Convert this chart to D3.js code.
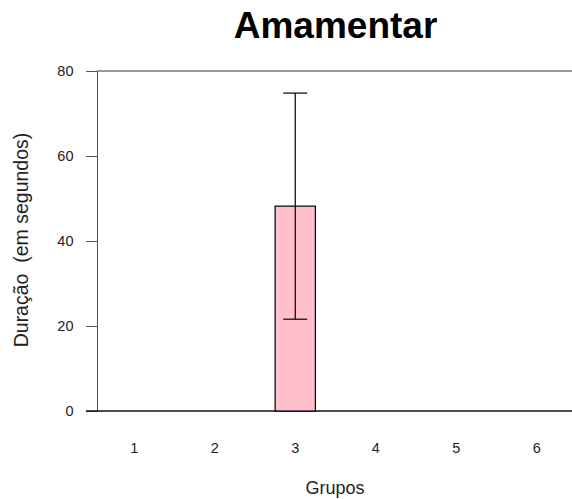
<!DOCTYPE html>
<html>
<head>
<meta charset="utf-8">
<script src="https://cdn.jsdelivr.net/npm/d3@7"></script>
<style>
  body { margin: 0; background: #fff; }
  svg { display: block; font-family: "Liberation Sans", Arial, sans-serif; }
</style>
</head>
<body>
<div id="chart"></div>
<script>
// data
const groups = ["1", "2", "3", "4", "5", "6"];
const means = [0, 0, 48.2, 0, 0, 0];
const errLow = [null, null, 21.6, null, null, null];
const errHigh = [null, null, 74.8, null, null, null];
const yTicks = [0, 20, 40, 60, 80];

const width = 572, height = 499;

const svg = d3.select("#chart").append("svg")
  .attr("width", width)
  .attr("height", height);

const x = d3.scaleBand()
  .domain(groups)
  .range([94, 577])
  .paddingInner(0.5)
  .paddingOuter(0.25);

const y = d3.scaleLinear()
  .domain([0, 80])
  .range([411, 71]);

// title
svg.append("text")
  .attr("x", 335.5)
  .attr("y", 38)
  .attr("text-anchor", "middle")
  .style("font-size", "37px")
  .style("font-weight", "bold")
  .text("Amamentar");

// y axis
const yAxis = svg.append("g")
  .attr("transform", "translate(97,0)")
  .call(d3.axisLeft(y).tickValues(yTicks).tickSize(11).tickPadding(12.5));
yAxis.select(".domain").attr("stroke", "#555");
yAxis.selectAll(".tick line").attr("stroke", "#555");
yAxis.selectAll("text").style("font-size", "14.5px").attr("fill", "#222");

// top line and baseline
svg.append("line")
  .attr("x1", 97).attr("x2", width)
  .attr("y1", y(80)).attr("y2", y(80))
  .attr("stroke", "#333").attr("stroke-width", 1.2);
svg.append("line")
  .attr("x1", 86).attr("x2", width)
  .attr("y1", y(0)).attr("y2", y(0))
  .attr("stroke", "#111").attr("stroke-width", 1.6);

// bars
svg.append("g")
  .selectAll("rect")
  .data(groups.map((g, i) => ({g: g, v: means[i]})).filter(d => d.v > 0))
  .join("rect")
  .attr("x", d => x(d.g))
  .attr("y", d => y(d.v))
  .attr("width", x.bandwidth())
  .attr("height", d => y(0) - y(d.v))
  .attr("fill", "#FFC0CB")
  .attr("stroke", "#000")
  .attr("stroke-width", 1.2);

// error bars
const errs = groups.map((g, i) => ({g: g, lo: errLow[i], hi: errHigh[i]})).filter(d => d.lo !== null);
const eg = svg.append("g").attr("stroke", "#000").attr("stroke-width", 1.2);
errs.forEach(d => {
  const cx = x(d.g) + x.bandwidth() / 2;
  eg.append("line").attr("x1", cx).attr("x2", cx).attr("y1", y(d.hi)).attr("y2", y(d.lo));
  eg.append("line").attr("x1", cx - 12).attr("x2", cx + 12).attr("y1", y(d.hi)).attr("y2", y(d.hi));
  eg.append("line").attr("x1", cx - 12).attr("x2", cx + 12).attr("y1", y(d.lo)).attr("y2", y(d.lo));
});

// group labels
svg.append("g")
  .selectAll("text")
  .data(groups)
  .join("text")
  .attr("x", d => x(d) + x.bandwidth() / 2)
  .attr("y", 452.5)
  .attr("text-anchor", "middle")
  .style("font-size", "14.5px")
  .attr("fill", "#222")
  .text(d => d);

// axis titles
svg.append("text")
  .attr("x", 335)
  .attr("y", 494)
  .attr("text-anchor", "middle")
  .style("font-size", "18px")
  .attr("fill", "#222")
  .text("Grupos");

svg.append("text")
  .attr("transform", "translate(28,240) rotate(-90)")
  .attr("text-anchor", "middle")
  .style("font-size", "19.5px")
  .attr("fill", "#222")
  .style("white-space", "pre")
  .attr("xml:space", "preserve")
  .text("Duração  (em segundos)");
</script>
</body>
</html>
